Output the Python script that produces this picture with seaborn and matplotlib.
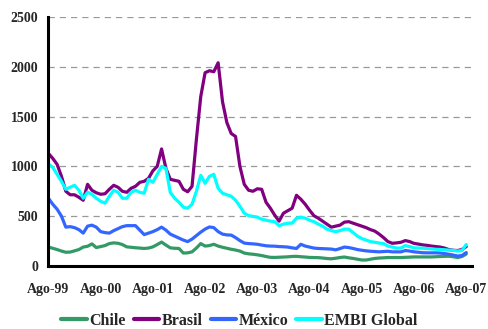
import pandas as pd
import seaborn as sns
import matplotlib.pyplot as plt

# spreads mensuales, Ago-99 a Ago-07 (pb)
meses = list(range(97))
etiquetas = ['Ago-99', 'Ago-00', 'Ago-01', 'Ago-02', 'Ago-03', 'Ago-04', 'Ago-05', 'Ago-06', 'Ago-07']

chile = [190, 178, 165, 150, 138, 140, 152, 165, 190, 198, 222, 185, 195, 205, 225, 232, 228, 215, 192, 188,
         183, 180, 176, 180, 192, 215, 240, 210, 182, 178, 176, 130, 132, 142, 180, 225, 200, 205, 218, 200,
         188, 178, 168, 160, 150, 130, 122, 118, 112, 105, 95, 87, 86, 88, 90, 92, 96, 97, 93, 90,
         86, 85, 84, 80, 75, 72, 78, 85, 90, 82, 76, 68, 60, 60, 68, 76, 80, 82, 85, 85,
         85, 85, 87, 89, 91, 91, 91, 91, 91, 93, 95, 97, 98, 93, 85, 95, 120]

brasil = [1130, 1080, 1020, 900, 750, 715, 715, 690, 660, 820, 760, 735, 720, 725, 770, 810, 790, 750, 740, 780,
          800, 840, 850, 880, 955, 1000, 1175, 980, 870, 860, 850, 770, 745, 800, 1270, 1700, 1940, 1960, 1950, 2040,
          1650, 1440, 1330, 1300, 1000, 820, 760, 750, 775, 770, 640, 580, 510, 450, 530, 555, 580, 710, 670, 620,
          560, 505, 480, 450, 420, 390, 400, 410, 440, 445, 430, 415, 400, 385, 365, 350, 320, 285, 245, 228,
          232, 238, 255, 245, 227, 220, 212, 207, 200, 195, 190, 180, 165, 158, 155, 165, 195]

mexico = [680, 620, 570, 500, 390, 395, 385, 365, 330, 400, 410, 390, 345, 335, 330, 355, 375, 395, 405, 405,
          405, 360, 315, 330, 345, 365, 390, 360, 320, 300, 280, 260, 245, 270, 305, 340, 370, 392, 385, 345,
          320, 312, 310, 285, 255, 230, 225, 222, 218, 210, 203, 200, 199, 195, 193, 190, 182, 176, 218, 200,
          190, 180, 176, 174, 172, 170, 162, 175, 190, 185, 176, 165, 158, 152, 148, 145, 142, 145, 148, 142,
          142, 142, 155, 150, 142, 138, 133, 132, 132, 132, 130, 125, 118, 110, 100, 105, 135]

embi = [1025, 990, 920, 850, 770, 790, 810, 760, 680, 740, 720, 680, 650, 630, 700, 760, 740, 680, 680, 740,
        760, 740, 730, 870, 840, 920, 1000, 980, 740, 680, 640, 590, 580, 620, 750, 910, 830, 900, 920, 780,
        730, 715, 700, 660, 600, 530, 505, 498, 490, 470, 460, 450, 445, 405, 420, 430, 430, 480, 490, 480,
        460, 445, 420, 400, 370, 355, 345, 355, 370, 370, 335, 300, 275, 260, 245, 238, 230, 225, 200, 190,
        180, 180, 205, 195, 182, 180, 178, 176, 172, 168, 166, 163, 160, 157, 150, 155, 215]

series = {'Chile': chile, 'Brasil': brasil, 'México': mexico, 'EMBI Global': embi}
colores = ['#339966', '#800080', '#3366ff', '#00ffff']

data = pd.DataFrame([(m, nombre, v) for nombre, vals in series.items() for m, v in zip(meses, vals)],
                    columns=['mes', 'serie', 'spread'])

sns.set_style('white')
plt.rcParams['font.family'] = ['Liberation Serif', 'DejaVu Serif']
plt.rcParams['font.weight'] = 'bold'

fig = plt.figure(figsize=(4.89, 3.29), dpi=100)
ax = fig.add_axes([0.099, 0.1915, 0.866, 0.757])

sns.lineplot(data=data, x='mes', y='spread', hue='serie', palette=colores, linewidth=2.3, ax=ax, legend=False)

ax.set_xlim(0, 97.3)
ax.set_ylim(0, 2500)
ax.set_xticks(range(0, 97, 12))
ax.set_xticklabels(etiquetas)
ax.set_yticks(range(0, 2501, 500))
ax.set_xlabel('')
ax.set_ylabel('')
ax.yaxis.grid(True, linestyle=(0, (5, 4)), color='#999999', linewidth=0.9)
ax.set_axisbelow(True)

for s in ['top', 'right']:
    ax.spines[s].set_visible(False)
for s in ['left', 'bottom']:
    ax.spines[s].set_linewidth(2.2)
    ax.spines[s].set_color('black')

ax.tick_params(axis='both', direction='out', length=4, width=2, color='black', labelsize=10)
ax.tick_params(axis='x', pad=8)
for lab in ax.get_xticklabels() + ax.get_yticklabels():
    lab.set_fontweight('bold')

lineas = [plt.Line2D([0], [0], color=c, linewidth=3) for c in colores]
fig.legend(lineas, list(series.keys()), loc='center', bbox_to_anchor=(0.49, 0.025), ncol=4,
           frameon=False, handlelength=1.6, handletextpad=0.15, columnspacing=0.5,
           borderpad=0, prop={'size': 11.5, 'weight': 'bold'})

plt.savefig('out.png', dpi=100)
